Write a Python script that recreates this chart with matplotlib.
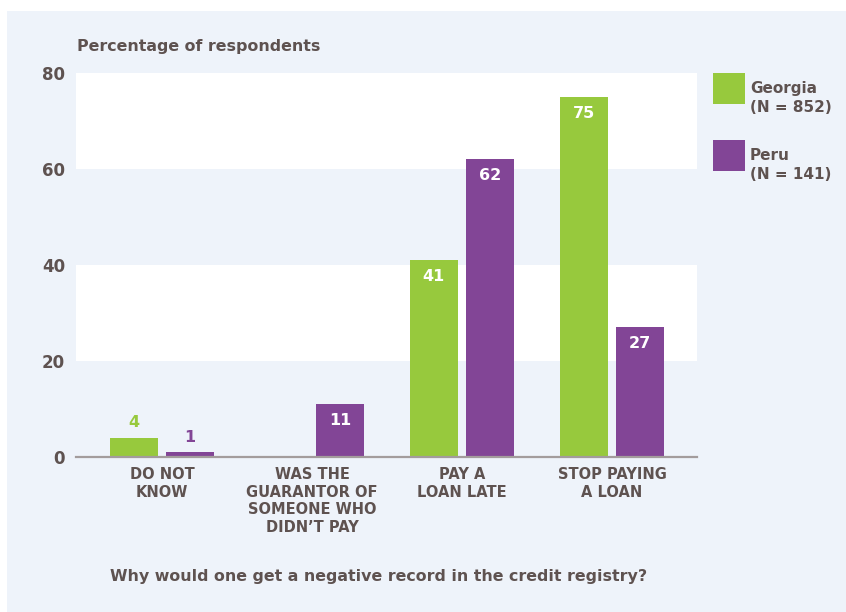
import numpy as np
import matplotlib
matplotlib.use("Agg")
import matplotlib.pyplot as plt
from matplotlib.patches import Rectangle

plt.rcParams['font.family'] = ['DejaVu Sans']
plt.rcParams['font.weight'] = 'bold'

categories = ["DO NOT\nKNOW", "WAS THE\nGUARANTOR OF\nSOMEONE WHO\nDIDN\u2019T PAY",
              "PAY A\nLOAN LATE", "STOP PAYING\nA LOAN"]
georgia = [4, None, 41, 75]
peru = [1, 11, 62, 27]
series_names = ["Georgia\n(N = 852)", "Peru\n(N = 141)"]
yticks = [0, 20, 40, 60, 80]

GREEN = "#97C93D"
PURPLE = "#824596"
PANEL = "#EEF3FA"
TEXT = "#5E5250"

fig = plt.figure(figsize=(8.46, 6.12), dpi=100)
W, H = 846, 612
fig.patches.append(Rectangle((7 / W, 0), 1 - 7 / W, 1 - 11 / H,
                             transform=fig.transFigure, facecolor=PANEL,
                             edgecolor="none", zorder=-10))

ax = fig.add_axes([76 / W, (H - 457) / H, (697 - 76) / W, (457 - 73) / H])
ax.set_facecolor(PANEL)
ax.axhspan(20, 40, color="white", zorder=0, lw=0)
ax.axhspan(60, 80, color="white", zorder=0, lw=0)

x = np.arange(len(categories))
g = np.array([np.nan if v is None else v for v in georgia], dtype=float)
p = np.array(peru, dtype=float)
width = 0.32
off = 0.187
ax.bar(x - off, g, width, color=GREEN, zorder=2, label=series_names[0])
ax.bar(x + off, p, width, color=PURPLE, zorder=2, label=series_names[1])

def label_bars(xs, vals, color):
    for xi, v in zip(xs, vals):
        if np.isnan(v):
            continue
        if v >= 10:
            ax.text(xi, v - 3.4, f"{v:.0f}", ha="center", va="center",
                    color="white", fontsize=11.5, fontweight="bold", zorder=3)
        else:
            ax.text(xi, v + 3.1, f"{v:.0f}", ha="center", va="center",
                    color=color, fontsize=11.5, fontweight="bold", zorder=3)

label_bars(x - off, g, GREEN)
label_bars(x + off, p, PURPLE)

ax.set_xlim(-0.573, 3.567)
ax.set_ylim(0, 80)
for s in ["top", "right", "left"]:
    ax.spines[s].set_visible(False)
ax.spines["bottom"].set_color("#A39C9C")
ax.spines["bottom"].set_linewidth(1.6)
ax.spines["bottom"].set_zorder(4)

ax.set_yticks(yticks)
ax.set_yticklabels([str(t) for t in yticks], fontsize=12, color=TEXT,
                   fontweight="bold")
ax.tick_params(axis="y", length=0, pad=8)
ax.set_xticks(x)
ax.set_xticklabels(categories, fontsize=10.5, color=TEXT, fontweight="bold",
                   linespacing=1.24)
ax.tick_params(axis="x", length=0, pad=7)

fig.text(77 / W, 1 - 47 / H, "Percentage of respondents", ha="left",
         va="center", fontsize=11.4, color=TEXT, fontweight="bold")
fig.text(379 / W, 1 - 577 / H,
         "Why would one get a negative record in the credit registry?",
         ha="center", va="center", fontsize=11.4, color=TEXT,
         fontweight="bold")

# legend drawn by hand: square swatch + two-line label
for i, (name, col) in enumerate(zip(series_names, [GREEN, PURPLE])):
    top = 73 + i * 67
    fig.patches.append(Rectangle((713 / W, 1 - (top + 31) / H), 32 / W, 31 / H,
                                 transform=fig.transFigure, facecolor=col,
                                 edgecolor="none"))
    fig.text(750 / W, 1 - (top + 25) / H, name, ha="left", va="center",
             fontsize=11, color=TEXT, fontweight="bold", linespacing=1.35)

fig.savefig("out.png", dpi=100)
